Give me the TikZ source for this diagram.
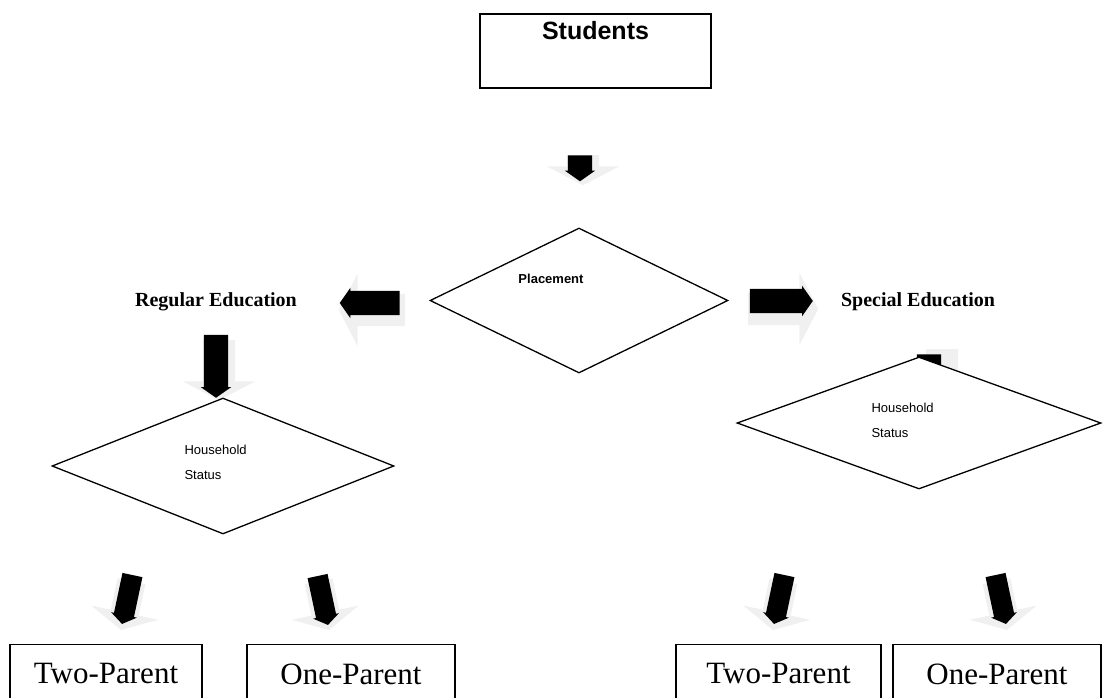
\documentclass[tikz,border=0pt]{standalone}
\usepackage{fontspec}
\setmainfont{Liberation Serif}
\setsansfont{Liberation Sans}
\usetikzlibrary{shapes.geometric,shapes.arrows}

\tikzset{
  box/.style={draw, line width=1.4pt, inner sep=0pt},
  decision/.style={diamond, draw, line width=1.3pt, fill=white, inner sep=0pt},
  fatarrow/.style={single arrow, fill=black, inner xsep=0pt, inner ysep=12pt,
    single arrow head extend=3pt, single arrow tip angle=110},
  fatshade/.style={single arrow, fill=black!6, inner xsep=0pt, inner ysep=16pt,
    single arrow head extend=20pt, single arrow tip angle=125},
  grouplabel/.style={font=\bfseries\fontsize{20}{24}\selectfont},
  leaflabel/.style={font=\fontsize{31}{36}\selectfont},
  smalllabel/.style={font=\sffamily\fontsize{13}{25}\selectfont, align=left, anchor=west},
}

\begin{document}
\begin{tikzpicture}[x=1pt,y=-1pt]
  \useasboundingbox (0,0) rectangle (1111,698);

  % Arrows (shade first, then black)
  \node[fatshade, rotate=-90, minimum height=30pt] (s0) at (583,166) {};
  \node[fatarrow, rotate=-90, minimum height=26pt] (a0) at (580,164) {};
  \node[fatshade, rotate=180, minimum height=66pt] (s1) at (376,310) {};
  \node[fatarrow, rotate=180, minimum height=60pt] (a1) at (374,303) {};
  \node[fatshade, rotate=0, minimum height=70pt] (s2) at (779,309) {};
  \node[fatarrow, rotate=0, minimum height=63pt] (a2) at (777,301) {};
  \node[fatshade, rotate=-90, minimum height=60pt] (s3) at (219,366) {};
  \node[fatarrow, rotate=-90, minimum height=63pt] (a3) at (216,362) {};
  \node[fatshade, rotate=-90, minimum height=60pt] (s4) at (942,375) {};
  \node[fatarrow, rotate=-90, minimum height=60pt] (a4) at (929,380) {};
  \node[fatshade, rotate=-102, minimum height=50pt, inner ysep=14pt] (s5) at (127,602) {};
  \node[fatarrow, rotate=-102, minimum height=50pt, inner ysep=10pt] (a5) at (128,596) {};
  \node[fatshade, rotate=-78, minimum height=50pt, inner ysep=14pt] (s6) at (323,602) {};
  \node[fatarrow, rotate=-78, minimum height=50pt, inner ysep=10pt] (a6) at (322,597) {};
  \node[fatshade, rotate=-102, minimum height=50pt, inner ysep=14pt] (s7) at (779,602) {};
  \node[fatarrow, rotate=-102, minimum height=50pt, inner ysep=10pt] (a7) at (780,596) {};
  \node[fatshade, rotate=-78, minimum height=50pt, inner ysep=14pt] (s8) at (1001,602) {};
  \node[fatarrow, rotate=-78, minimum height=50pt, inner ysep=10pt] (a8) at (1000,596) {};

  % Boxes and decisions
  \node[box, minimum width=231pt, minimum height=74pt,
    label={[font=\sffamily\bfseries\fontsize{25}{30}\selectfont, anchor=north, yshift=-5pt]north:Students}]
    (students) at (595.5,51) {};
  \node[decision, minimum width=298pt, minimum height=145pt] (placement) at (579,300.5) {};
  \node[font=\sffamily\bfseries\fontsize{13}{16}\selectfont] (placetext) at (551,279) {Placement};
  \node[grouplabel] (regular) at (216,302) {Regular Education};
  \node[grouplabel] (special) at (918,302) {Special Education};

  \node[decision, minimum width=342pt, minimum height=136pt] (houseleft) at (223,466) {};
  \node[smalllabel] (houselefttext) at (181,462) {Household\\Status};
  \node[decision, minimum width=364pt, minimum height=132pt] (houseright) at (919,423) {};
  \node[smalllabel] (houserighttext) at (868,420) {Household\\Status};

  \node[box, anchor=north, minimum width=192pt, minimum height=80pt,
    label={[leaflabel, anchor=north, yshift=-16pt]north:Two-Parent}] (twoleft) at (106,644) {};
  \node[box, anchor=north, minimum width=208pt, minimum height=80pt,
    label={[leaflabel, anchor=north, yshift=-16pt]north:One-Parent}] (oneleft) at (351,644) {};
  \node[box, anchor=north, minimum width=205pt, minimum height=80pt,
    label={[leaflabel, anchor=north, yshift=-16pt]north:Two-Parent}] (tworight) at (778.5,644) {};
  \node[box, anchor=north, minimum width=208pt, minimum height=80pt,
    label={[leaflabel, anchor=north, yshift=-16pt]north:One-Parent}] (oneright) at (997,644) {};
\end{tikzpicture}
\end{document}
